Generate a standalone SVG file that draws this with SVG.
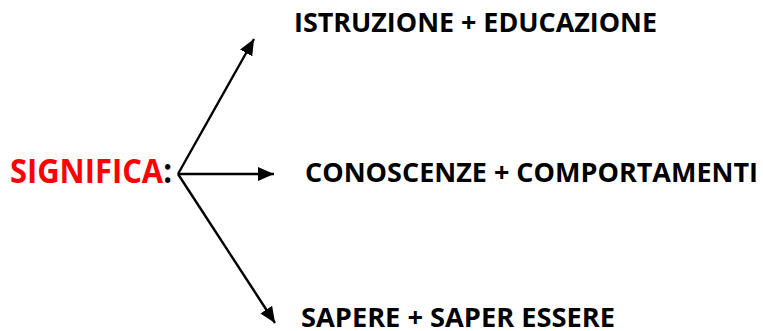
<svg xmlns="http://www.w3.org/2000/svg" width="763" height="331" viewBox="0 0 763 331">
<style>
.t{font-family:"Open Sans","Liberation Sans",sans-serif;font-weight:bold;fill:#000}
.c{stroke:#000;stroke-width:2.4;fill:none}
</style>
<defs>
<marker id="ah" markerWidth="16" markerHeight="14" refX="16" refY="7" orient="auto" markerUnits="userSpaceOnUse">
<path d="M0,0 L16,7 L0,14 Z" fill="#000"/>
</marker>
</defs>
<rect width="763" height="331" fill="#fff"/>
<g id="significa">
<text class="t" x="10" y="182.7" font-size="34" textLength="162" lengthAdjust="spacingAndGlyphs"><tspan fill="#f00">SIGNIFICA</tspan>:</text>
</g>
<g id="istruzione">
<text class="t" x="294" y="31.7" font-size="27" textLength="363" lengthAdjust="spacingAndGlyphs">ISTRUZIONE + EDUCAZIONE</text>
</g>
<g id="conoscenze">
<text class="t" x="305" y="182.3" font-size="27" textLength="453" lengthAdjust="spacingAndGlyphs">CONOSCENZE + COMPORTAMENTI</text>
</g>
<g id="sapere">
<text class="t" x="301" y="326.7" font-size="27" textLength="314" lengthAdjust="spacingAndGlyphs">SAPERE + SAPER ESSERE</text>
</g>
<g id="connectors">
<line class="c" x1="178" y1="174" x2="254" y2="39" marker-end="url(#ah)"/>
<line class="c" x1="178" y1="174" x2="274" y2="174" marker-end="url(#ah)"/>
<line class="c" x1="178" y1="174" x2="275" y2="323" marker-end="url(#ah)"/>
</g>
</svg>
